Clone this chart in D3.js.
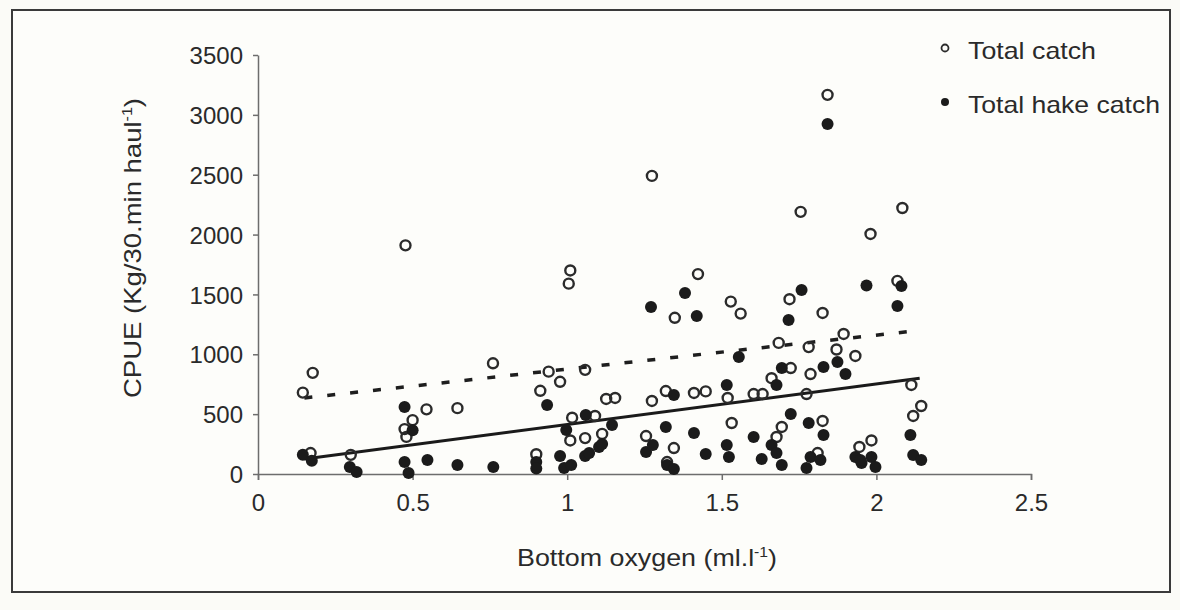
<!DOCTYPE html>
<html>
<head>
<meta charset="utf-8">
<script src="https://cdn.jsdelivr.net/npm/d3@7"></script>
<style>
  html, body { margin: 0; padding: 0; background: #fbfbf7; }
  svg text { font-family: "Liberation Sans", Arial, sans-serif; fill: #2a2a2a; }
</style>
</head>
<body>
<div id="chart"></div>
<script>
// bottom oxygen (ml/l) vs CPUE
const totalCatch = [
  [0.145, 680], [0.177, 845], [0.17, 175], [0.30, 160], [0.477, 1910], [0.474, 375],
  [0.50, 450], [0.48, 310], [0.545, 540], [0.645, 550], [0.76, 925], [0.94, 855],
  [0.977, 770], [0.913, 695], [1.058, 870], [1.016, 470], [1.01, 280], [1.058, 300],
  [0.90, 165], [1.01, 1700], [1.005, 1590], [1.274, 2490], [1.755, 2190], [1.423, 1670],
  [1.348, 1305], [1.529, 1440], [1.561, 1340], [1.719, 1460], [1.826, 1345], [1.894, 1170],
  [1.871, 1040], [1.684, 1095], [1.781, 1060], [1.723, 885], [1.661, 800], [1.787, 835],
  [1.126, 627], [1.155, 635], [1.274, 610], [1.319, 693], [1.41, 677], [1.448, 690],
  [1.519, 635], [1.603, 668], [1.632, 668], [1.774, 668], [1.09, 485], [1.113, 335],
  [1.255, 317], [1.345, 217], [1.532, 426], [1.694, 393], [1.677, 309], [1.826, 443],
  [1.81, 175], [1.323, 100], [1.842, 3167], [2.084, 2222], [1.981, 2005], [2.068, 1613],
  [1.932, 986], [2.113, 744], [2.145, 568], [2.119, 485], [1.984, 280], [1.945, 226]
];
const hakeCatch = [
  [0.145, 160], [0.174, 110], [0.297, 58], [0.319, 17], [0.474, 560], [0.50, 365],
  [0.474, 100], [0.487, 8], [0.548, 117], [0.645, 75], [0.761, 58], [0.935, 577],
  [0.90, 100], [0.90, 45], [0.977, 150], [0.99, 50], [1.013, 75], [0.997, 368],
  [1.06, 493], [1.058, 150], [1.271, 1395], [1.381, 1512], [1.419, 1320], [1.345, 660],
  [1.516, 744], [1.145, 409], [1.319, 393], [1.41, 343], [1.103, 226], [1.071, 175],
  [1.113, 251], [1.255, 184], [1.277, 242], [1.448, 167], [1.323, 75], [1.345, 42],
  [1.516, 242], [1.758, 1537], [1.716, 1287], [1.968, 1575], [1.555, 978], [1.694, 886],
  [1.677, 744], [1.829, 894], [1.874, 936], [1.90, 836], [1.723, 501], [1.781, 426],
  [1.829, 326], [1.603, 309], [1.523, 142], [1.661, 242], [1.677, 175], [1.629, 125],
  [1.694, 75], [1.774, 50], [1.787, 142], [1.819, 117], [1.932, 142], [1.952, 92],
  [2.081, 1571], [2.068, 1404], [2.11, 326], [2.119, 159], [2.145, 117], [1.984, 142],
  [1.997, 58], [1.842, 2924], [1.948, 117]
];
// fitted lines, end points
const totalTrend = [[0.15, 635], [2.14, 1200]];
const hakeTrend = [[0.15, 125], [2.14, 800]];

const xTicks = [0, 0.5, 1, 1.5, 2, 2.5];
const yTicks = [0, 500, 1000, 1500, 2000, 2500, 3000, 3500];
const seriesNames = ["Total catch", "Total hake catch"];

const W = 1180, H = 610;
const svg = d3.select("#chart").append("svg")
    .attr("width", W).attr("height", H);

// frame
svg.append("rect")
    .attr("x", 12).attr("y", 10).attr("width", 1158).attr("height", 582)
    .attr("fill", "#fdfdfa").attr("stroke", "#3a3a3a").attr("stroke-width", 2);

const x = d3.scaleLinear().domain([0, 2.5]).range([258, 1031]);
const y = d3.scaleLinear().domain([0, 3500]).range([474, 55]);

// axes
svg.append("g")
    .attr("transform", `translate(0,${y(0)})`)
    .call(d3.axisBottom(x).tickValues(xTicks).tickSize(6).tickPadding(14)
        .tickFormat(d => d))
    .call(g => g.selectAll("path,line").attr("stroke", "#6d6d6d").attr("stroke-width", 1.5))
    .call(g => g.selectAll("text").style("font-size", "24px").attr("fill", "#2a2a2a"));

svg.append("g")
    .attr("transform", `translate(${x(0)},0)`)
    .call(d3.axisLeft(y).tickValues(yTicks).tickSize(5).tickPadding(10).tickSizeOuter(0)
        .tickFormat(d => d))
    .call(g => g.selectAll("path,line").attr("stroke", "#6d6d6d").attr("stroke-width", 1.5))
    .call(g => g.selectAll("text").style("font-size", "24px").attr("fill", "#2a2a2a")
        .attr("dy", "0.36em"));

// axis titles
const xt = svg.append("text")
    .attr("x", 647).attr("y", 566)
    .attr("text-anchor", "middle")
    .attr("textLength", 260).attr("lengthAdjust", "spacingAndGlyphs")
    .style("font-size", "24px");
xt.append("tspan").text("Bottom oxygen (ml.l");
xt.append("tspan").attr("dy", -9).style("font-size", "14px").text("-1");
xt.append("tspan").attr("dy", 9).text(")");

const yt = svg.append("text")
    .attr("transform", "translate(141,248) rotate(-90)")
    .attr("text-anchor", "middle")
    .attr("textLength", 300).attr("lengthAdjust", "spacingAndGlyphs")
    .style("font-size", "24px");
yt.append("tspan").text("CPUE (Kg/30.min haul");
yt.append("tspan").attr("dy", -9).style("font-size", "14px").text("-1");
yt.append("tspan").attr("dy", 9).text(")");

// trend lines
const line = d3.line().x(d => x(d[0])).y(d => y(d[1]));
svg.append("path").datum(totalTrend)
    .attr("d", line).attr("fill", "none")
    .attr("stroke", "#1e1e1e").attr("stroke-width", 3.5)
    .attr("stroke-dasharray", "8,15");
svg.append("path").datum(hakeTrend)
    .attr("d", line).attr("fill", "none")
    .attr("stroke", "#1a1a1a").attr("stroke-width", 3);

// points
svg.append("g").selectAll("circle")
    .data(totalCatch).enter().append("circle")
    .attr("cx", d => x(d[0])).attr("cy", d => y(d[1]))
    .attr("r", 5)
    .attr("fill", "none").attr("stroke", "#2b2b2b").attr("stroke-width", 2.4);

svg.append("g").selectAll("circle")
    .data(hakeCatch).enter().append("circle")
    .attr("cx", d => x(d[0])).attr("cy", d => y(d[1]))
    .attr("r", 6)
    .attr("fill", "#1b1b1b");

// legend
const legend = svg.append("g");
seriesNames.forEach((name, i) => {
    const ly = 50 + i * 54;
    const c = legend.append("circle").attr("cx", 945).attr("cy", ly - 2).attr("r", 3.5);
    if (i === 0) c.attr("fill", "none").attr("stroke", "#2b2b2b").attr("stroke-width", 1.8);
    else c.attr("fill", "#1b1b1b").attr("r", 4);
    legend.append("text")
        .attr("x", 968).attr("y", ly + 9)
        .attr("textLength", i === 0 ? 128 : 192).attr("lengthAdjust", "spacingAndGlyphs")
        .style("font-size", "24px")
        .text(name);
});
</script>
</body>
</html>
